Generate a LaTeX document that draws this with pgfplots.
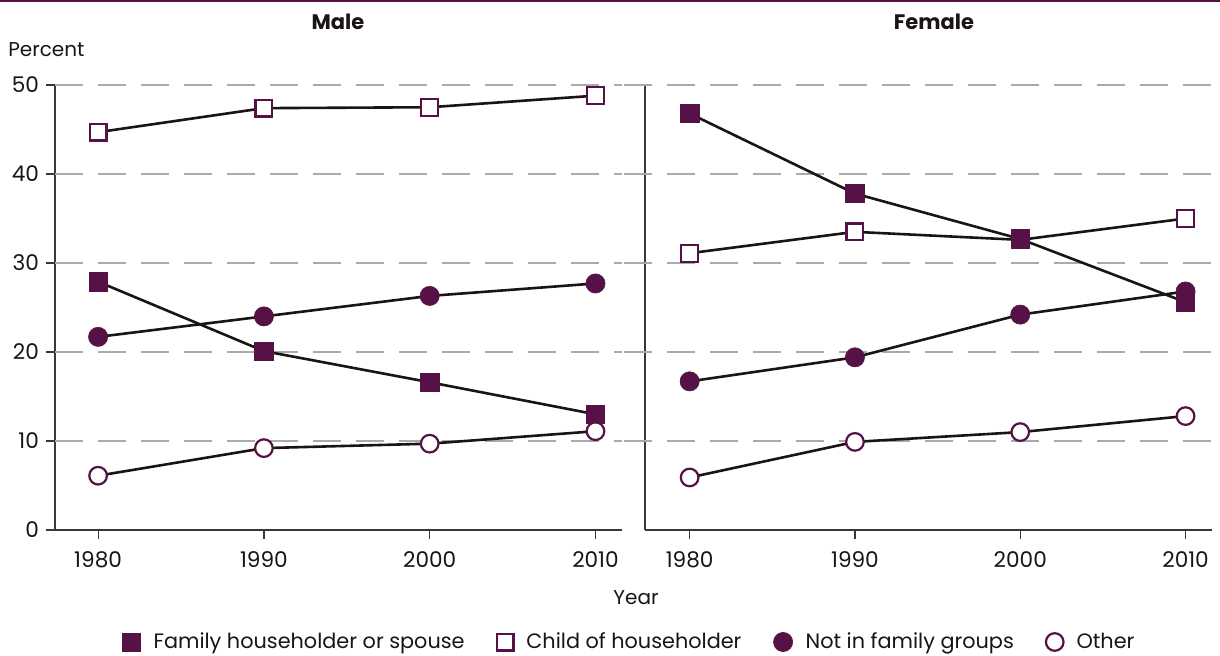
\documentclass[border=0pt]{standalone}
\usepackage{fontspec}
\setmainfont{Poppins}
\usepackage{pgfplots}
\usepackage{pgfplotstable}
\pgfplotsset{compat=1.18}

\definecolor{plum}{RGB}{86,18,70}
\definecolor{ink}{RGB}{26,20,18}
\definecolor{gridgray}{RGB}{170,170,170}

% percent of population by living arrangement
\pgfplotstableread{
year fam child nofam other
1980 27.9 44.7 21.7 6.1
1990 20.1 47.4 24.0 9.2
2000 16.6 47.5 26.3 9.7
2010 13.0 48.8 27.7 11.1
}\male
\pgfplotstableread{
year fam child nofam other
1980 46.8 31.1 16.7 5.9
1990 37.8 33.5 19.4 9.9
2000 32.7 32.6 24.2 11.0
2010 25.6 35.0 26.8 12.8
}\female

\tikzset{
  gridline/.style={gridgray, line width=0.7pt, dash pattern=on 14pt off 7.5pt},
  ln/.style={color=ink, line width=1.3pt},
  fam/.style={ln, mark=square*, mark size=4.6pt, mark options={solid, draw=plum, fill=plum, line width=0.3pt}},
  child/.style={ln, mark=square*, mark size=4.2pt, mark options={solid, draw=plum, fill=white, line width=1.1pt}},
  nofam/.style={ln, mark=*, mark size=4.8pt, mark options={solid, draw=plum, fill=plum, line width=0.3pt}},
  other/.style={ln, mark=*, mark size=4.4pt, mark options={solid, draw=plum, fill=white, line width=1.1pt}},
}

\pgfplotsset{
  panel/.style={
    scale only axis, width=283.5pt, height=222.5pt,
    ymin=0, ymax=50,
    axis x line*=bottom, axis y line*=left,
    axis line style={-, ink!85, line width=0.6pt},
    xtick={1980,1990,2000,2010}, ytick={0,10,...,50},
    tick style={ink!85, line width=0.6pt},
    tick align=outside, major tick length=4.5pt,
    x tick label style={/pgf/number format/1000 sep={}, yshift=-3pt},
    tick label style={font=\fontsize{10.8}{12}\selectfont, text=ink},
    /pgf/number format/assume math mode=true,
    clip=false,
    legend image code/.code={\draw[##1,only marks] plot coordinates {(0pt,0pt)};},
  },
}

\begin{document}
\begin{tikzpicture}
\path[use as bounding box] (0,0) rectangle (610pt,-328pt);
\draw[plum, line width=1pt] (0,-0.5pt) -- (610pt,-0.5pt);

\begin{axis}[panel, at={(27.5pt,-265pt)}, anchor=south west,
  xmin=1977.4, xmax=2011.6,
  legend style={at={(1.0146,-0.2517)}, anchor=center, draw=none, fill=none,
    legend columns=4, font=\fontsize{10.4}{12}\selectfont, text=ink,
    /tikz/every odd column/.append style={column sep=4.5pt},
    /tikz/every even column/.append style={column sep=14pt}},
]
\pgfplotsinvokeforeach{10,20,30,40,50}{
  \draw[gridline] (axis cs:1977.4,#1) -- (axis cs:2011.6,#1);
}
\addlegendimage{fam}\addlegendentry{Family householder or spouse}
\addlegendimage{child}\addlegendentry{Child of householder}
\addlegendimage{nofam}\addlegendentry{Not in family groups}
\addlegendimage{other}\addlegendentry{Other}
\addplot[child, forget plot] table[x=year, y=child] {\male};
\addplot[fam, forget plot] table[x=year, y=fam] {\male};
\addplot[nofam, forget plot] table[x=year, y=nofam] {\male};
\addplot[other, forget plot] table[x=year, y=other] {\male};
\end{axis}

\begin{axis}[panel, at={(322.5pt,-265pt)}, anchor=south west,
  xmin=1977.3, xmax=2011.6,
  yticklabels={}, ytick style={draw=none},
]
\pgfplotsinvokeforeach{10,20,30,40,50}{
  \draw[gridline] (axis cs:1976.03,#1) -- (axis cs:2012.1,#1);
}
\addplot[child] table[x=year, y=child] {\female};
\addplot[fam] table[x=year, y=fam] {\female};
\addplot[nofam] table[x=year, y=nofam] {\female};
\addplot[other] table[x=year, y=other] {\female};
\end{axis}

\node[font=\fontsize{10.5}{12}\selectfont\bfseries, text=ink] at (169pt,-11pt) {Male};
\node[font=\fontsize{10.5}{12}\selectfont\bfseries, text=ink] at (467pt,-11pt) {Female};
\node[anchor=base west, font=\fontsize{10}{12}\selectfont, text=ink, inner sep=0pt] at (4pt,-28.5pt) {Percent};
\node[font=\fontsize{10}{12}\selectfont, text=ink] at (318pt,-299pt) {Year};
\end{tikzpicture}
\end{document}
